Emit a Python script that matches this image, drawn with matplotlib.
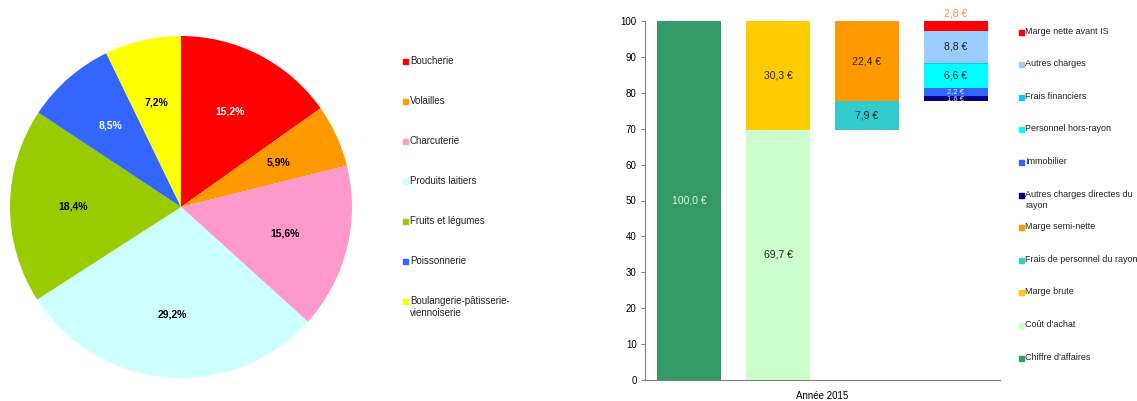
import numpy as np
import matplotlib.pyplot as plt

plt.rcParams["font.family"] = ["Liberation Sans", "DejaVu Sans"]

# --- données du camembert
rayons = ["Boucherie", "Volailles", "Charcuterie", "Produits laitiers",
          "Fruits et légumes", "Poissonnerie", "Boulangerie-pâtisserie-\nviennoiserie"]
parts = [15.2, 5.9, 15.6, 29.2, 18.4, 8.5, 7.2]
couleurs_pie = ["#ff0000", "#ff9900", "#ff99cc", "#ccffff", "#99cc00", "#3366ff", "#ffff00"]
couleurs_pct = ["white", "black", "black", "black", "black", "white", "black"]

# --- données de la cascade (colonne, base, poste, valeur)
colonnes = [0, 1, 2, 3]
postes = ["Chiffre d'affaires", "Coût d'achat", "Marge brute", "Frais de personnel du rayon",
          "Marge semi-nette", "Autres charges directes du\nrayon", "Immobilier",
          "Personnel hors-rayon", "Frais financiers", "Autres charges", "Marge nette avant IS"]
col_poste = [0, 1, 1, 2, 2, 3, 3, 3, 3, 3, 3]
valeurs = [100.0, 69.7, 30.3, 7.9, 22.4, 1.6, 2.2, 6.6, 0.4, 8.8, 2.8]
base_col = [0.0, 0.0, 69.7, 77.6]
couleurs_bar = ["#339966", "#ccffcc", "#ffcc00", "#33cccc", "#ff9900", "#000080",
                "#3366ff", "#00ffff", "#00ccff", "#99ccff", "#ff0000"]

W, H = 1137, 401
fig = plt.figure(figsize=(W / 100, H / 100), dpi=100)

# camembert
ax1 = fig.add_axes([10 / W, 23 / H, 342 / W, 342 / H])
wedges, texts, autotexts = ax1.pie(
    parts, colors=couleurs_pie, startangle=90, counterclock=False,
    autopct=lambda p: f"{p:.1f}%".replace(".", ","), pctdistance=0.63,
    wedgeprops=dict(linewidth=0))
for t, c in zip(autotexts, couleurs_pct):
    t.set_color(c)
    t.set_fontsize(7.5)
    t.set_fontweight("bold")
ax1.set_xlim(-1, 1)
ax1.set_ylim(-1, 1)
ax1.set_aspect("equal")

# légende du camembert
for i, (lab, c) in enumerate(zip(rayons, couleurs_pie)):
    y = 1 - (61 + 40 * i) / H
    fig.patches.append(plt.Rectangle((403 / W, y - 2.5 / H), 5 / W, 5 / H,
                                     transform=fig.transFigure, color=c, figure=fig))
    fig.text(410 / W, y + 5.5 / H, lab, fontsize=7, va="top", ha="left",
             linespacing=1.3, color="#222222")

# cascade
ax2 = fig.add_axes([645 / W, 21 / H, 355 / W, 359 / H])
bottoms = {c: base_col[c] for c in colonnes}
for nom, c, v, col in zip(postes, col_poste, valeurs, couleurs_bar):
    b = bottoms[c]
    ax2.bar(c, v, bottom=b, width=0.72, color=col, edgecolor="none")
    bottoms[c] = b + v
    lab = f"{v:.1f} €".replace(".", ",")
    if nom == "Chiffre d'affaires":
        ax2.text(c, b + v / 2, lab, ha="center", va="center", fontsize=7.5, color="#e8f5e8")
    elif nom == "Marge nette avant IS":
        ax2.text(c, b + v + 0.6, lab, ha="center", va="bottom", fontsize=7.5, color="#ff8c40")
    elif nom == "Frais financiers":
        pass
    elif v < 3:
        ax2.text(c, b + v / 2, lab, ha="center", va="center", fontsize=5.5, color="#e8e8ff")
    else:
        ax2.text(c, b + v / 2, lab, ha="center", va="center", fontsize=7.5, color="#222222")

ax2.set_xlim(-0.5, 3.5)
ax2.set_ylim(0, 100)
ax2.set_yticks(np.arange(0, 101, 10))
ax2.tick_params(axis="y", labelsize=7, length=3, color="#808080", pad=3)
ax2.set_xticks([])
ax2.set_xlabel("Année 2015", fontsize=7, labelpad=8)
for s in ["top", "right"]:
    ax2.spines[s].set_visible(False)
for s in ["left", "bottom"]:
    ax2.spines[s].set_color("#808080")
    ax2.spines[s].set_linewidth(0.8)

# légende de la cascade (ordre inverse)
for i, (lab, c) in enumerate(zip(postes[::-1], couleurs_bar[::-1])):
    y = 1 - (32 + 32.6 * i) / H
    fig.patches.append(plt.Rectangle((1019 / W, y - 2.5 / H), 5 / W, 5 / H,
                                     transform=fig.transFigure, color=c, figure=fig))
    fig.text(1025 / W, y + 5.5 / H, lab, fontsize=6.5, va="top", ha="left",
             linespacing=1.3, color="#222222")

fig.savefig("out.png", dpi=100)
